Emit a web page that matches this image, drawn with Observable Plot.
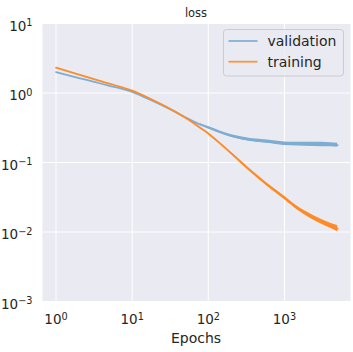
<!DOCTYPE html>
<html>
<head>
<meta charset="utf-8">
<script src="https://cdn.jsdelivr.net/npm/d3@7"></script>
<script src="https://cdn.jsdelivr.net/npm/@observablehq/plot@0.6"></script>
<style>
  html, body { margin: 0; padding: 0; background: white; }
  #chart { width: 353px; height: 352px; }
</style>
</head>
<body>
<div id="chart"></div>
<script>
// ---- data ----
const title = "loss";
const xLabel = "Epochs";
const seriesNames = ["validation", "training"];

const epochs    = [1, 2, 3, 5, 7, 10, 15, 19, 30, 43, 53, 79, 100, 145, 217, 359, 594, 1000, 1480, 2430, 4030, 5000];
const trainLoss = [2.31, 1.84, 1.61, 1.36, 1.23, 1.08, 0.89, 0.785, 0.608, 0.487, 0.422, 0.313, 0.261, 0.185, 0.125, 0.076, 0.048, 0.031, 0.0221, 0.0159, 0.0123, 0.0112];
const valLoss   = [2.00, 1.64, 1.47, 1.27, 1.17, 1.04, 0.859, 0.764, 0.600, 0.489, 0.431, 0.35, 0.318, 0.271, 0.235, 0.211, 0.200, 0.187, 0.184, 0.182, 0.180, 0.178];

// noise envelope (lower / upper) of the jittery late epochs
const bandEpochs = [79, 100, 145, 217, 359, 594, 1000, 1480, 2430, 4030, 5000];
const valLow     = [0.340, 0.307, 0.261, 0.225, 0.201, 0.190, 0.176, 0.173, 0.170, 0.168, 0.166];
const valHigh    = [0.361, 0.329, 0.282, 0.246, 0.222, 0.211, 0.198, 0.196, 0.195, 0.193, 0.190];
const trainLow   = [0.309, 0.256, 0.180, 0.121, 0.073, 0.0457, 0.0294, 0.0208, 0.0148, 0.0113, 0.0101];
const trainHigh  = [0.317, 0.266, 0.190, 0.129, 0.079, 0.0504, 0.0327, 0.0234, 0.0171, 0.0134, 0.0124];

const xTicks = [1, 10, 100, 1000];
const yTicks = [0.001, 0.01, 0.1, 1, 10];

// ---- build tables ----
const valData = epochs.map((e, i) => ({epoch: e, loss: valLoss[i]}));
const trainData = epochs.map((e, i) => ({epoch: e, loss: trainLoss[i]}));
const valBand = bandEpochs.map((e, i) => ({epoch: e, lo: valLow[i], hi: valHigh[i]}));
const trainBand = bandEpochs.map((e, i) => ({epoch: e, lo: trainLow[i], hi: trainHigh[i]}));

const BLUE = "#7eacd2", ORANGE = "#fd8b28";
const TEXT = "#262626";
const fmt = d => "10^" + String(Math.round(Math.log10(d))).replace("-", "\u2212");

const svg = Plot.plot({
  width: 353, height: 352,
  marginLeft: 42, marginRight: 3, marginTop: 23, marginBottom: 51,
  style: {fontFamily: "DejaVu Sans", fontSize: "13.5px", color: TEXT, background: "white", overflow: "visible"},
  x: {type: "log", domain: [0.664, 7370]},
  y: {type: "log", domain: [1e-3, 10]},
  marks: [
    Plot.frame({fill: "#eaeaf2", stroke: null}),
    Plot.gridX(xTicks, {stroke: "white", strokeOpacity: 1, strokeWidth: 1}),
    Plot.gridY(yTicks, {stroke: "white", strokeOpacity: 1, strokeWidth: 1}),
    Plot.axisX(xTicks, {tickSize: 0, tickPadding: 13, tickFormat: fmt, label: null, fill: TEXT}),
    Plot.axisY(yTicks, {tickSize: 0, tickPadding: 10, tickFormat: fmt, label: null, fill: TEXT, dy: 3}),
    Plot.areaY(valBand, {x: "epoch", y1: "lo", y2: "hi", fill: BLUE, fillOpacity: 1, curve: "monotone-x"}),
    Plot.line(valData, {x: "epoch", y: "loss", stroke: BLUE, strokeWidth: 1.8, curve: "monotone-x"}),
    Plot.areaY(trainBand, {x: "epoch", y1: "lo", y2: "hi", fill: ORANGE, fillOpacity: 1, curve: "monotone-x"}),
    Plot.line(trainData, {x: "epoch", y: "loss", stroke: ORANGE, strokeWidth: 1.8, curve: "monotone-x"})
  ]
});

// superscript exponents on tick labels
d3.select(svg).selectAll('g[aria-label="x-axis tick label"] text, g[aria-label="y-axis tick label"] text').each(function() {
  const t = d3.select(this);
  const s = t.text();
  if (!s.includes("^")) return;
  const [base, exp] = s.split("^");
  t.text(base);
  t.append("tspan").attr("dy", "-0.45em").attr("font-size", "72%").text(exp);
});

const root = d3.select(svg);
// title
root.append("text").attr("x", 196).attr("y", 17).attr("text-anchor", "middle")
  .attr("font-size", 11.5).attr("fill", TEXT).text(title);
// x label
root.append("text").attr("x", 196).attr("y", 343).attr("text-anchor", "middle")
  .attr("font-size", 14).attr("fill", TEXT).text(xLabel);

// legend
const lg = root.append("g");
lg.append("rect").attr("x", 223.5).attr("y", 29.5).attr("width", 120).attr("height", 46.5)
  .attr("rx", 3).attr("fill", "#eaeaf2").attr("fill-opacity", 0.8).attr("stroke", "#cccccc");
const legendColors = ["#84b0d3", "#fb943c"];
seriesNames.forEach((name, i) => {
  const y = 41 + i * 20.7;
  lg.append("line").attr("x1", 228.5).attr("x2", 257.5).attr("y1", y).attr("y2", y)
    .attr("stroke", legendColors[i]).attr("stroke-width", 1.8);
  lg.append("text").attr("x", 267.5).attr("y", y).attr("dy", "0.35em").attr("text-anchor", "start")
    .attr("font-size", 14).attr("fill", TEXT).text(name);
});

document.getElementById("chart").appendChild(svg);
</script>
</body>
</html>
